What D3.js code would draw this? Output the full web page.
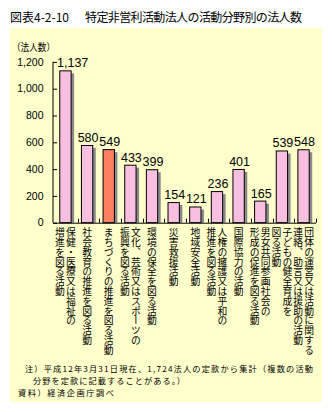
<!DOCTYPE html>
<html><head><meta charset="utf-8">
<script src="https://cdn.jsdelivr.net/npm/d3@7"></script>
<style>
html,body{margin:0;padding:0;background:#fff;}
svg{display:block;}
text{font-family:"Noto Sans CJK JP","Noto Sans",sans-serif;fill:#000;}
.num{font-family:"Liberation Sans",Arial,sans-serif;}
</style></head>
<body>
<script>
const categories = [
  ["保健・医療又は福祉の","増進を図る活動"],
  ["社会教育の推進を図る活動"],
  ["まちづくりの推進を図る活動"],
  ["文化、芸術又はスポーツの","振興を図る活動"],
  ["環境の保全を図る活動"],
  ["災害救援活動"],
  ["地域安全活動"],
  ["人権の擁護又は平和の","推進を図る活動"],
  ["国際協力の活動"],
  ["男女共同参画社会の","形成の促進を図る活動"],
  ["子どもの健全育成を","図る活動"],
  ["団体の運営又は活動に関する","連絡、助言又は援助の活動"]
];
const values = [1137,580,549,433,399,154,121,236,401,165,539,548];
const highlighted = ["まちづくりの推進を図る活動"];
const yTicks = [0,200,400,600,800,1000,1200];
const titleLabel = "図表4-2-10";
const titleText = "特定非営利活動法人の活動分野別の法人数";
const yUnit = "（法人数）";
const notes = [
  "注）平成12年3月31日現在、1,724法人の定款から集計（複数の活動",
  "分野を定款に記載することがある。）",
  "資料）経済企画庁調べ"
];

(function(){
const W = 332, H = 412;
const svg = d3.select("body").append("svg").attr("width", W).attr("height", H);

// panel
svg.append("rect").attr("x",10).attr("y",28).attr("width",312).attr("height",374).attr("fill","#FFFFCC");

// title
svg.append("text").attr("x",10).attr("y",21.5).attr("font-size",12).text(titleLabel);
svg.append("text").attr("x",85).attr("y",21.5).attr("font-size",12)
  .attr("textLength",217).attr("lengthAdjust","spacing").text(titleText);

const axisX = 53, axisRight = 316, base = 222.7, plotTop = 61.9;
const y = d3.scaleLinear().domain([0,1200]).range([base, plotTop]);
const x = d3.scaleBand().domain(d3.range(categories.length)).range([axisX, axisRight])
  .paddingInner(0.43).paddingOuter(0.29);
const bw = x.bandwidth();

// y unit
svg.append("text").attr("x",12).attr("y",50.5).attr("font-size",10)
  .attr("textLength",43).attr("lengthAdjust","spacingAndGlyphs").text(yUnit);

// y axis
const yAxis = d3.axisRight(y).tickValues(yTicks).tickSize(4).tickFormat("");
const gy = svg.append("g").attr("transform",`translate(${axisX},0)`).call(yAxis);
gy.select(".domain").attr("stroke","#000").attr("d",`M0,${plotTop}V${base}`);
gy.selectAll(".tick line").attr("stroke","#000");
svg.append("g").selectAll("text").data(yTicks).join("text")
  .attr("class","num").attr("x",43.5).attr("y",d=>y(d)).attr("dy","0.35em")
  .attr("text-anchor","end").attr("font-size",10.5)
  .text(d=>d3.format(",")(d));

// bars
const bars = svg.append("g");
categories.forEach((c,i)=>{
  const bx = x(i), by = y(values[i]);
  bars.append("rect").attr("x",bx+2.5).attr("y",by+3).attr("width",bw).attr("height",base-by-3)
    .attr("fill","#8a8a8a");
  bars.append("rect").attr("x",bx+0.5).attr("y",by+0.5).attr("width",bw-1).attr("height",base-by-0.5)
    .attr("fill", highlighted.includes(c.join("")) ? "#FF7F5F" : "#F9BFE0")
    .attr("stroke","#000").attr("stroke-width",1);
});

// x axis line and category ticks
svg.append("line").attr("x1",axisX).attr("x2",axisRight).attr("y1",base+0.5).attr("y2",base+0.5).attr("stroke","#000");
const tickXs = d3.range(1,categories.length).map(i => (x(i-1)+bw + x(i))/2 + 1.5).concat([axisRight-0.5]);
svg.append("g").selectAll("line").data(tickXs).join("line")
  .attr("x1",d=>Math.round(d)+0.5).attr("x2",d=>Math.round(d)+0.5)
  .attr("y1",base).attr("y2",base-4).attr("stroke","#000");

// value labels
const vl = svg.append("g").selectAll("text").data(values).join("text")
  .attr("class","num").attr("font-size",12.5).attr("text-anchor","middle")
  .attr("y",d=>y(d)-3).text(d=>d3.format(",")(d));
vl.each(function(d,i){
  const w = this.getComputedTextLength();
  let cx = x(i)+bw/2+1;
  if (cx - w/2 < axisX + 4) cx = axisX + 4 + w/2;
  d3.select(this).attr("x",cx);
});

// category labels (vertical)
const lab = svg.append("g");
categories.forEach((lines,i)=>{
  const cx = x(i)+bw/2;
  const n = lines.length;
  lines.forEach((t,j)=>{
    const off = n===1 ? 0 : (j===0 ? 5.5 : -5.5);
    lab.append("text").attr("x",cx+off).attr("y",227.5)
      .style("writing-mode","vertical-rl").attr("font-size",9.8)
      .text(t);
  });
});

// notes
const noteX = [25,33,18], noteY = [371.5,383.5,395.5], noteLen = [288,152,96];
notes.forEach((t,i)=>{
  svg.append("text").attr("font-size",8.2).attr("x",noteX[i]).attr("y",noteY[i])
    .attr("textLength",noteLen[i]).attr("lengthAdjust","spacing").text(t);
});
})();
</script>
</body></html>
